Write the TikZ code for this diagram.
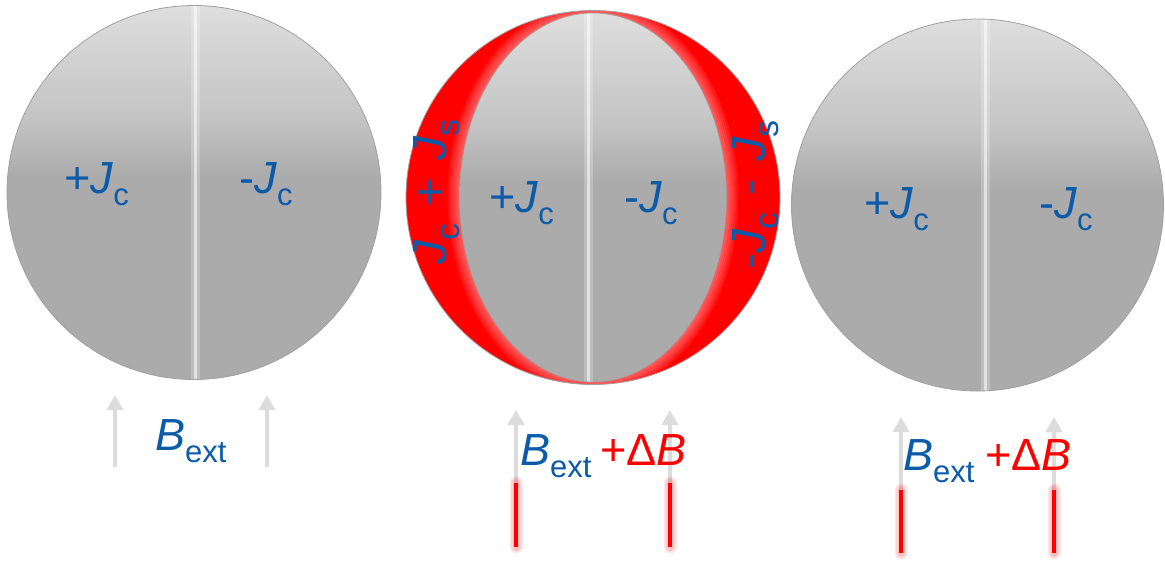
\documentclass[tikz,border=0pt]{standalone}
\usepackage{fontspec}
\setmainfont{Liberation Sans}
\usetikzlibrary{arrows.meta}
\definecolor{cTxt}{HTML}{0B5BA8}
\definecolor{cDel}{HTML}{FF0000}
\definecolor{gTop}{HTML}{DEDEDE}
\definecolor{gMid}{HTML}{C4C4C4}
\definecolor{gBot}{HTML}{ABABAB}
\definecolor{cRim}{HTML}{A0A0A0}
\definecolor{cFld}{HTML}{DCDCDC}
\pgfdeclareverticalshading{disc}{100bp}{color(0bp)=(gBot); color(25bp)=(gBot);
  color(52bp)=(gBot); color(60bp)=(gMid); color(75bp)=(gTop); color(100bp)=(gTop)}
\newcommand\subtx[1]{\raisebox{-12pt}{\fontsize{31}{31}\selectfont #1}}
\newcommand\subrt[1]{\raisebox{-13pt}{\fontsize{34}{34}\selectfont #1}}
\tikzset{
  ball/.style  ={shading=disc},
  rim/.style   ={draw=cRim,line width=0.8pt},
  seam/.style  ={draw=white,draw opacity=.55,line width=3pt,
                 preaction={draw=white,draw opacity=.22,line width=9pt}},
  fringe/.style={draw=white,draw opacity=.07,line width=#1},
  lbl/.style   ={text=cTxt,inner sep=0pt,anchor=base west,
                 font=\fontsize{45}{45}\selectfont},
  shell/.style ={lbl,anchor=center,rotate=90,font=\fontsize{48}{48}\selectfont},
  fld/.style   ={-{Triangle[length=15pt,width=16pt]},draw=cFld,line width=4.5pt},
  dfld/.style  ={draw=cDel,line width=4pt},
  dglow/.style ={draw=cDel,draw opacity=.09,line width=#1,line cap=round},
}
\begin{document}
\begin{tikzpicture}[x=1pt,y=-1pt]
\useasboundingbox (0,0) rectangle (1165,570);
\coordinate (o1) at (194,192.5);
\coordinate (o2) at (593,197.5);
\coordinate (o3) at (977.5,205);

% left disc, field B_ext only
\shade[ball] (o1) circle (187);
\begin{scope}
  \clip (o1) circle (187);
  \draw[seam] (195,0) -- (195,400);
\end{scope}
\draw[rim] (o1) circle (187);
\node[lbl] (p1) at (64,193) {+\textit{J}\subtx{c}};
\node[lbl] (m1) at (239,193) {-\textit{J}\subtx{c}};

% middle disc, screening shell in red
\fill[cDel] (o2) circle (187);
\begin{scope}
  \clip (o2) circle (187);
  \foreach \w in {4,8,12,16,20,24} \draw[fringe=\w pt] (o2) ellipse (133.5 and 184.5);
\end{scope}
\shade[ball] (o2) ellipse (133.5 and 184.5);
\begin{scope}
  \clip (o2) ellipse (133.5 and 184.5);
  \draw[seam] (588,0) -- (588,400);
\end{scope}
\draw[rim,line width=0.6pt] (o2) ellipse (133.5 and 184.5);
\draw[rim] (o2) circle (187);
\node[lbl] (p2) at (489,212) {+\textit{J}\subtx{c}};
\node[lbl] (m2) at (624,212) {-\textit{J}\subtx{c}};
\node[shell] (s2) at (437,192)
  {\textit{J}\subrt{c}\hspace{4pt} + \hspace{4pt}\textit{J}\subrt{s}};
\node[shell] (t2) at (756,195)
  {-\textit{J}\subrt{c}\hspace{4pt} - \hspace{4pt}\textit{J}\subrt{s}};

% right disc, after the field step
\shade[ball] (o3) circle (186);
\begin{scope}
  \clip (o3) circle (186);
  \draw[seam] (985,0) -- (985,400);
\end{scope}
\draw[rim] (o3) circle (186);
\node[lbl] (p3) at (864,218) {+\textit{J}\subtx{c}};
\node[lbl] (m3) at (1039,218) {-\textit{J}\subtx{c}};

% applied field arrows
\coordinate (a1) at (115,467); \coordinate (h1) at (115,395);
\coordinate (a2) at (267,467); \coordinate (h2) at (267,395);
\draw[fld] (a1) -- (h1);
\draw[fld] (a2) -- (h2);
\node[lbl] (b1) at (155,450) {\textit{B}\subtx{ext}};

\coordinate (r3) at (516,547); \coordinate (a3) at (516,483); \coordinate (h3) at (516,410);
\coordinate (r4) at (670,547); \coordinate (a4) at (670,483); \coordinate (h4) at (670,410);
\draw[fld] (a3) -- (h3);
\draw[fld] (a4) -- (h4);
\foreach \w in {7,10,13} {
  \draw[dglow=\w pt] (r3) -- (a3);
  \draw[dglow=\w pt] (r4) -- (a4);
}
\draw[dfld] (r3) -- (a3);
\draw[dfld] (r4) -- (a4);
\node[lbl] (b2) at (520,465) {\textit{B}\subtx{ext}};
\node[lbl,text=cDel] (d2) at (600,465) {+Δ\textit{B}};

\coordinate (r5) at (901,553); \coordinate (a5) at (901,490); \coordinate (h5) at (901,417);
\coordinate (r6) at (1054,553); \coordinate (a6) at (1054,490); \coordinate (h6) at (1054,417);
\draw[fld] (a5) -- (h5);
\draw[fld] (a6) -- (h6);
\foreach \w in {7,10,13} {
  \draw[dglow=\w pt] (r5) -- (a5);
  \draw[dglow=\w pt] (r6) -- (a6);
}
\draw[dfld] (r5) -- (a5);
\draw[dfld] (r6) -- (a6);
\node[lbl] (b3) at (903,470) {\textit{B}\subtx{ext}};
\node[lbl,text=cDel] (d3) at (985,470) {+Δ\textit{B}};
\end{tikzpicture}
\end{document}
